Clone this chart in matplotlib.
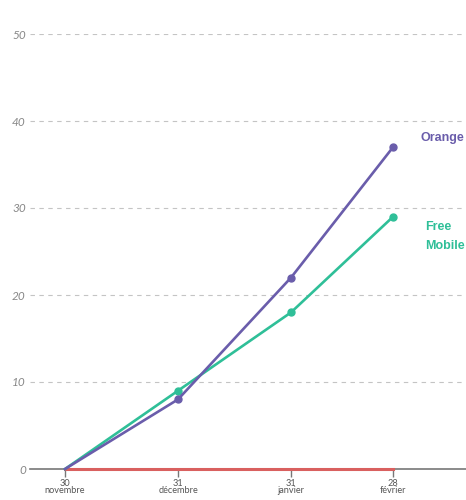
import matplotlib.pyplot as plt
import pandas as pd

dates = ["2012-11-30", "2012-12-31", "2013-01-31", "2013-02-28"]
tick_days = ["30", "31", "31", "28"]
tick_months = ["novembre", "décembre", "janvier", "février"]
orange = [0, 8, 22, 37]
free = [0, 9, 18, 29]
other = [0, 0, 0, 0]
yticks = [0, 10, 20, 30, 40, 50]

c_orange = "#6a5dab"
c_free = "#2fbf98"
c_red = "#d9605f"
c_grid = "#c4c4c4"

d = pd.to_datetime(dates)
x = [(v - d[0]).days for v in d]

fig = plt.figure(figsize=(4.66, 5), dpi=100)
ax = fig.add_axes([30 / 466, 31 / 500, 436 / 466, 435 / 500])

for v in yticks[1:]:
    ax.axhline(v, color=c_grid, lw=0.8, ls=(0, (4, 4)), zorder=0)
ax.axhline(0, color="#777777", lw=1.2, zorder=1, clip_on=False)

# no dot on the starting point
ax.plot(x, other, color=c_red, lw=2.2, zorder=2, clip_on=False)
ax.plot(x, free, color=c_free, lw=1.9, marker="o", ms=5, markevery=[1, 2, 3],
        zorder=3, clip_on=False)
ax.plot(x, orange, color=c_orange, lw=1.9, marker="o", ms=5, markevery=[1, 2, 3],
        zorder=4, clip_on=False)

ax.set_xlim(-9.6, 110)
ax.set_ylim(0, 50)

for s in ax.spines.values():
    s.set_visible(False)

ax.set_yticks(yticks)
ax.set_yticklabels([str(v) for v in yticks], fontstyle="italic",
                   color="#888888", fontsize=8.5, family="Lato")
ax.tick_params(axis="y", length=0, pad=3)

ax.set_xticks(x)
ax.set_xticklabels([a + "\n" + b for a, b in zip(tick_days, tick_months)],
                   fontsize=6.6, color="#555555", linespacing=0.8, family="Lato")
ax.tick_params(axis="x", length=6, width=1, color="#777777", pad=1)

ax.text(x[3] + 7.5, 38, "Orange", color=c_orange, fontsize=9, fontweight="bold",
        family="Liberation Sans", va="center", ha="left")
ax.text(x[3] + 8.9, 26.7, "Free\nMobile", color=c_free, fontsize=9, fontweight="bold",
        family="Liberation Sans", va="center", ha="left", linespacing=1.75)

fig.savefig("out.png", dpi=100)
